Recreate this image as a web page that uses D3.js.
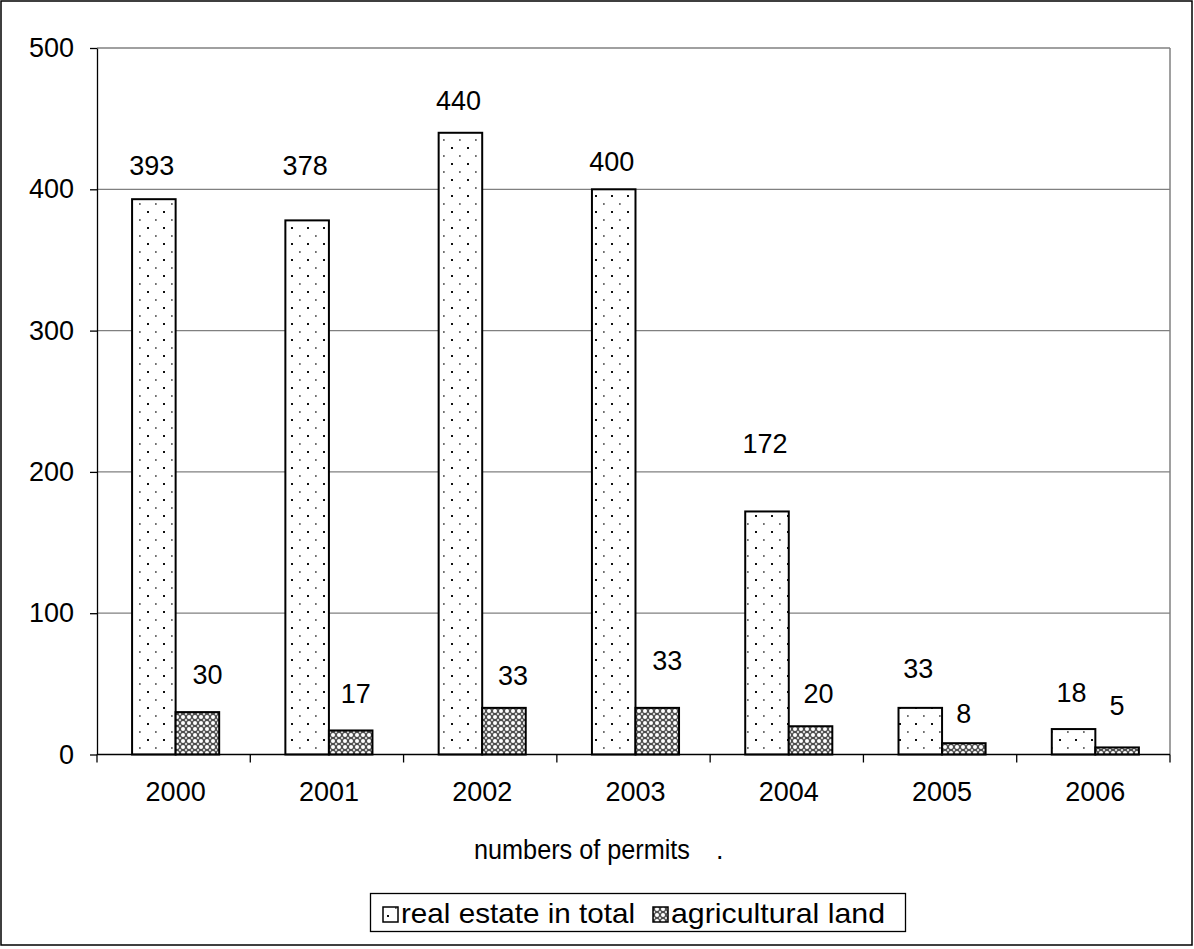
<!DOCTYPE html>
<html>
<head>
<meta charset="utf-8">
<script src="https://cdn.jsdelivr.net/npm/d3@7"></script>
<style>
  html, body { margin: 0; padding: 0; background: #fff; }
  svg { display: block; }
  text { font-family: "Liberation Sans", Arial, sans-serif; fill: #000; }
</style>
</head>
<body>
<svg id="chart" width="1194" height="949"></svg>
<script>
// ---- data ----
const years = ["2000", "2001", "2002", "2003", "2004", "2005", "2006"];
const realEstate = [393, 378, 440, 400, 172, 33, 18];
const agricultural = [30, 17, 33, 33, 20, 8, 5];
const seriesNames = ["real estate in total", "agricultural land"];
const yTicks = [0, 100, 200, 300, 400, 500];
// label anchor heights (in value units), as placed in the original chart
const realLabelAt = [417, 417, 463, 420, 220, 61, 44];
const agriLabelAt = [57, 43, 56, 67, 43, 29, 35];
const agriLabelNudge = [10, 5, 9, 10, 8, 0, 0];
const axisTitle = "numbers of permits";

// ---- layout ----
const svg = d3.select("#chart");
const pLeft = 97, pRight = 1170, pTop = 48, pBottom = 754.5;
const x = d3.scaleBand().domain(years).range([pLeft, pRight]).padding(0);
const inner = d3.scaleBand().domain(["real", "agri"]).range([0, x.bandwidth()])
  .paddingInner(0).paddingOuter(0.76).align(0.53);
const y = d3.scaleLinear().domain([0, 500]).range([pBottom, pTop]);

// patterns
const defs = svg.append("defs");
const pDots = defs.append("pattern").attr("id", "dots").attr("patternUnits", "userSpaceOnUse")
  .attr("width", 16).attr("height", 16);
pDots.append("rect").attr("width", 16).attr("height", 16).attr("fill", "#fff");
pDots.append("rect").attr("x", 3).attr("y", 3).attr("width", 2).attr("height", 2).attr("fill", "#111");
pDots.append("rect").attr("x", 11.3).attr("y", 11).attr("width", 1.2).attr("height", 2).attr("fill", "#333");

const pHatch = defs.append("pattern").attr("id", "hatch").attr("patternUnits", "userSpaceOnUse")
  .attr("width", 6).attr("height", 6);
pHatch.append("rect").attr("width", 6).attr("height", 6).attr("fill", "#4d4d4d");
pHatch.append("circle").attr("cx", 3).attr("cy", 3).attr("r", 2).attr("fill", "#fff");
[[0, 0], [6, 0], [0, 6], [6, 6]].forEach(p =>
  pHatch.append("circle").attr("cx", p[0]).attr("cy", p[1]).attr("r", 1.2).attr("fill", "#d8d8d8"));

// outer border
svg.append("rect").attr("x", 1).attr("y", 1).attr("width", 1191).attr("height", 944)
  .attr("fill", "#fff").attr("stroke", "#000").attr("stroke-width", 1.5);

// gridlines
svg.append("g").selectAll("line").data(yTicks.filter(d => d > 0)).join("line")
  .attr("x1", pLeft).attr("x2", pRight)
  .attr("y1", d => y(d)).attr("y2", d => y(d))
  .attr("stroke", "#808080").attr("stroke-width", 1.3);
// right plot border
svg.append("line").attr("x1", pRight).attr("x2", pRight).attr("y1", pTop).attr("y2", pBottom)
  .attr("stroke", "#808080").attr("stroke-width", 1.5);

// y axis
const yAxis = svg.append("g").attr("transform", `translate(${pLeft},0)`)
  .call(d3.axisLeft(y).tickValues(yTicks).tickSize(7).tickSizeOuter(0).tickPadding(16).tickFormat(d3.format("d")));
yAxis.select(".domain").attr("stroke", "#000").attr("stroke-width", 1.3);
yAxis.selectAll(".tick line").attr("stroke", "#000").attr("stroke-width", 1.3);
yAxis.selectAll("text").attr("font-size", 27).attr("font-family", "Liberation Sans, Arial").attr("fill", "#000");

// bars
const gBars = svg.append("g");
years.forEach((yr, i) => {
  gBars.append("rect")
    .attr("x", x(yr) + inner("real")).attr("width", inner.bandwidth())
    .attr("y", y(realEstate[i])).attr("height", y(0) - y(realEstate[i]))
    .attr("fill", "url(#dots)").attr("stroke", "#000").attr("stroke-width", 2);
  gBars.append("rect")
    .attr("x", x(yr) + inner("agri")).attr("width", inner.bandwidth())
    .attr("y", y(agricultural[i])).attr("height", y(0) - y(agricultural[i]))
    .attr("fill", "url(#hatch)").attr("stroke", "#000").attr("stroke-width", 2);
});

// x axis
const xAxis = svg.append("g").attr("transform", `translate(0,${pBottom})`);
xAxis.append("line").attr("x1", pLeft).attr("x2", pRight).attr("y1", 0).attr("y2", 0)
  .attr("stroke", "#000").attr("stroke-width", 1.3);
const bounds = years.map(d => x(d)).concat([pRight]);
xAxis.selectAll("line.tk").data(bounds).join("line").attr("class", "tk")
  .attr("x1", d => d).attr("x2", d => d).attr("y1", 0).attr("y2", 8)
  .attr("stroke", "#000").attr("stroke-width", 1.3);
xAxis.selectAll("text").data(years).join("text")
  .attr("x", d => x(d) + x.bandwidth() / 2 + 2).attr("y", 46)
  .attr("text-anchor", "middle").attr("font-size", 27).text(d => d);

// value labels
const gLab = svg.append("g").attr("font-size", 27);
years.forEach((yr, i) => {
  gLab.append("text")
    .attr("x", x(yr) + inner("real") + inner.bandwidth() / 2 - 2)
    .attr("y", y(realLabelAt[i])).attr("dy", "0.36em")
    .attr("text-anchor", "middle").text(realEstate[i]);
  gLab.append("text")
    .attr("x", x(yr) + inner("agri") + inner.bandwidth() / 2 + agriLabelNudge[i])
    .attr("y", y(agriLabelAt[i])).attr("dy", "0.36em")
    .attr("text-anchor", "middle").text(agricultural[i]);
});

// axis title
svg.append("text").attr("x", 474).attr("y", 859).attr("font-size", 27)
  .attr("textLength", 216).attr("lengthAdjust", "spacingAndGlyphs").text(axisTitle);
svg.append("text").attr("x", 716).attr("y", 859).attr("font-size", 27).text(".");

// legend
const leg = svg.append("g");
leg.append("rect").attr("x", 370.5).attr("y", 893.5).attr("width", 535).attr("height", 38)
  .attr("fill", "#fff").attr("stroke", "#000").attr("stroke-width", 1.3);
const legItems = [
  { name: seriesNames[0], fill: "url(#dots)", sx: 383, tx: 401, tl: 234 },
  { name: seriesNames[1], fill: "url(#hatch)", sx: 653, tx: 671, tl: 214 }
];
legItems.forEach(it => {
  leg.append("rect").attr("x", it.sx).attr("y", 907).attr("width", 15).attr("height", 15)
    .attr("fill", it.fill).attr("stroke", "#000").attr("stroke-width", 1.5);
  leg.append("text").attr("x", it.tx).attr("y", 923).attr("font-size", 28.5)
    .attr("textLength", it.tl).attr("lengthAdjust", "spacingAndGlyphs").text(it.name);
});
</script>
</body>
</html>
